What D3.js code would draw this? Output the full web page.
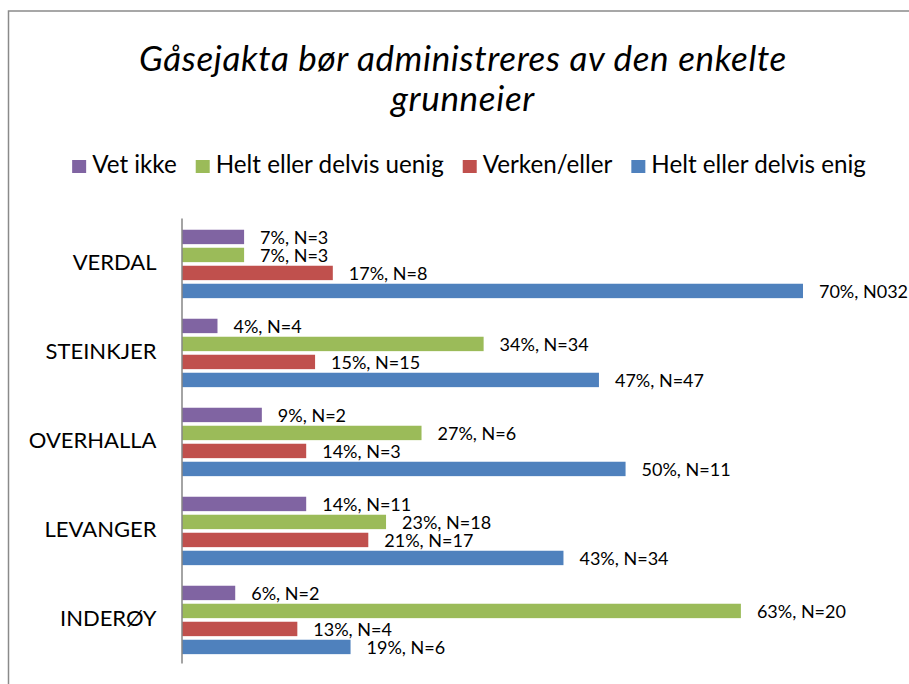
<!DOCTYPE html>
<html>
<head>
<meta charset="utf-8">
<script src="https://cdn.jsdelivr.net/npm/d3@7"></script>
<style>
  html, body { margin: 0; padding: 0; background: #fff; }
  svg { display: block; }
  text { font-family: Lato, "Open Sans", sans-serif; fill: #000; }
</style>
</head>
<body>
<svg id="chart" width="909" height="684"></svg>
<script>
// Survey answers per municipality (percent) with the label shown next to each bar
const categories = ["VERDAL", "STEINKJER", "OVERHALLA", "LEVANGER", "INDERØY"];
const seriesNames = ["Vet ikke", "Helt eller delvis uenig", "Verken/eller", "Helt eller delvis enig"];
const seriesColors = ["#8064A2", "#9BBB59", "#C0504D", "#4F81BD"];

const vetIkke       = [7, 4, 9, 14, 6];
const uenig         = [7, 34, 27, 23, 63];
const verkenEller   = [17, 15, 14, 21, 13];
const enig          = [70, 47, 50, 43, 19];

const vetIkkeLabels     = ["7%, N=3", "4%, N=4", "9%, N=2", "14%, N=11", "6%, N=2"];
const uenigLabels       = ["7%, N=3", "34%, N=34", "27%, N=6", "23%, N=18", "63%, N=20"];
const verkenEllerLabels = ["17%, N=8", "15%, N=15", "14%, N=3", "21%, N=17", "13%, N=4"];
const enigLabels        = ["70%, N032", "47%, N=47", "50%, N=11", "43%, N=34", "19%, N=6"];

const titleLines = ["Gåsejakta bør administreres av den enkelte", "grunneier"];

const seriesValues = [vetIkke, uenig, verkenEller, enig];
const seriesLabels = [vetIkkeLabels, uenigLabels, verkenEllerLabels, enigLabels];

const rows = [];
categories.forEach((c, ci) => {
  seriesNames.forEach((s, si) => {
    rows.push({ category: c, series: s, si, value: seriesValues[si][ci], label: seriesLabels[si][ci] });
  });
});

const svg = d3.select("#chart");

// outer chart frame
svg.append("rect")
  .attr("x", 8.5).attr("y", 11)
  .attr("width", 1000).attr("height", 1000)
  .attr("fill", "none")
  .attr("stroke", "#8a8a8a")
  .attr("stroke-width", 1.5);

// title
svg.append("g").selectAll("text")
  .data(titleLines)
  .join("text")
  .attr("x", 463)
  .attr("y", (d, i) => 71 + i * 40)
  .attr("text-anchor", "middle")
  .attr("font-style", "italic")
  .attr("font-size", 35)
  .attr("letter-spacing", 0.65)
  .text(d => d);

// scales
const y0 = d3.scaleBand().domain(categories).range([218, 663]).padding(0);
const y1 = d3.scaleBand().domain(seriesNames).range([0, y0.bandwidth()])
  .paddingInner(0.2).paddingOuter(0.572).align(0.57);
const x = d3.scaleLinear().domain([0, 80]).range([182, 891.7]);
const color = d3.scaleOrdinal().domain(seriesNames).range(seriesColors);

// bars
const plot = svg.append("g");
plot.selectAll("rect.bar")
  .data(rows)
  .join("rect")
  .attr("class", "bar")
  .attr("x", x(0))
  .attr("y", d => y0(d.category) + y1(d.series))
  .attr("width", d => x(d.value) - x(0))
  .attr("height", y1.bandwidth())
  .attr("fill", d => color(d.series));

// value labels
plot.selectAll("text.val")
  .data(rows)
  .join("text")
  .attr("class", "val")
  .attr("x", d => x(d.value) + 16)
  .attr("y", d => y0(d.category) + y1(d.series) + y1.bandwidth() / 2 + 7)
  .attr("font-size", 18)
  .text(d => d.label);

// category axis
const axis = d3.axisLeft(y0).tickSize(0).tickPadding(25);
const axisG = svg.append("g").attr("transform", "translate(181.5,0)").call(axis);
axisG.select(".domain").attr("stroke", "#868686").attr("stroke-width", 1.5);
axisG.selectAll(".tick text")
  .attr("font-size", 22)
  .attr("font-family", "Lato, 'Open Sans', sans-serif")
  .attr("dy", "0.36em")
  .attr("fill", "#000");

// legend
const legend = svg.append("g");
const items = legend.selectAll("g")
  .data(seriesNames)
  .join("g");
items.append("rect")
  .attr("width", 14).attr("height", 13)
  .attr("y", 160)
  .attr("fill", d => color(d));
items.append("text")
  .attr("x", 20)
  .attr("y", 173)
  .attr("font-size", 24.2)
  .text(d => d);

const gap = 19;
let cursor = 0;
const offsets = [];
items.each(function () {
  const w = this.querySelector("text").getComputedTextLength();
  offsets.push(cursor);
  cursor += 20 + w + gap;
});
const total = cursor - gap;
const startX = 469 - total / 2;
items.attr("transform", (d, i) => `translate(${startX + offsets[i]},0)`);
</script>
</body>
</html>
